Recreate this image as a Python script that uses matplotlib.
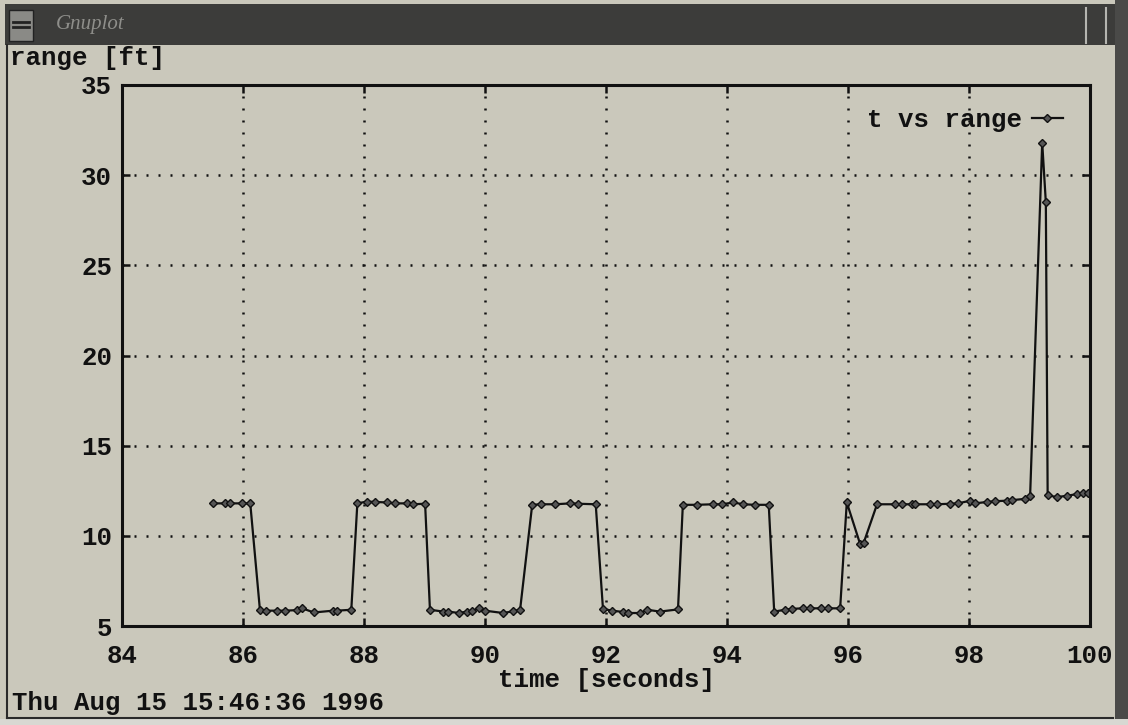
import matplotlib
matplotlib.use("Agg")
import matplotlib.pyplot as plt
from matplotlib.patches import Rectangle
from matplotlib.lines import Line2D

# range measurements against time
time_s = [85.50, 85.70, 85.79, 85.98, 86.12,
          86.28, 86.38, 86.56, 86.69, 86.89, 86.98, 87.17, 87.49, 87.55, 87.79,
          87.89, 88.05, 88.18, 88.38, 88.51, 88.71, 88.81, 89.01,
          89.09, 89.31, 89.39, 89.57, 89.70, 89.79, 89.90, 90.00, 90.30, 90.47, 90.58,
          90.78, 90.92, 91.16, 91.41, 91.54, 91.83,
          91.95, 92.10, 92.28, 92.36, 92.56, 92.68, 92.89, 93.19,
          93.27, 93.50, 93.77, 93.92, 94.10, 94.27, 94.46, 94.69,
          94.78, 94.96, 95.07, 95.25, 95.37, 95.56, 95.67, 95.87,
          95.98, 96.20, 96.26, 96.48, 96.78, 96.89, 97.06, 97.11, 97.36, 97.47,
          97.69, 97.82, 98.02, 98.10, 98.30, 98.43, 98.63, 98.71, 98.93, 99.01,
          99.21, 99.27, 99.30, 99.45, 99.62, 99.79, 99.88, 99.97]
range_ft = [11.80, 11.80, 11.80, 11.80, 11.80,
            5.88, 5.85, 5.85, 5.85, 5.88, 5.98, 5.75, 5.85, 5.85, 5.90,
            11.80, 11.90, 11.88, 11.85, 11.80, 11.80, 11.75, 11.78,
            5.90, 5.80, 5.80, 5.72, 5.80, 5.85, 5.98, 5.85, 5.72, 5.82, 5.90,
            11.72, 11.75, 11.75, 11.80, 11.78, 11.75,
            5.95, 5.85, 5.78, 5.72, 5.72, 5.90, 5.80, 5.92,
            11.72, 11.72, 11.75, 11.75, 11.85, 11.75, 11.72, 11.72,
            5.80, 5.90, 5.95, 5.98, 5.98, 5.98, 5.98, 5.98,
            11.85, 9.55, 9.62, 11.75, 11.75, 11.75, 11.75, 11.75, 11.75, 11.75,
            11.78, 11.80, 11.95, 11.80, 11.88, 11.92, 11.95, 11.98, 12.05, 12.20,
            31.80, 28.50, 12.25, 12.15, 12.22, 12.32, 12.38, 12.40]

x_ticks = [84, 86, 88, 90, 92, 94, 96, 98, 100]
y_ticks = [5, 10, 15, 20, 25, 30, 35]

series_label = "t vs range"
y_title = "range [ft]"
x_title = "time [seconds]"
timestamp = "Thu Aug 15 15:46:36 1996"
window_title = "Gnuplot"

BG = "#cac8bb"
INK = "#111111"
MONO = "Liberation Mono"
FS = 18.5

W, H = 1128, 725
fig = plt.figure(figsize=(W / 100, H / 100), dpi=100, facecolor=BG)


def fx(px):
    return px / W


def fy(py):
    return 1 - py / H


# window title bar
fig.add_artist(Rectangle((fx(5), fy(45)), fx(1123), 41 / H, transform=fig.transFigure,
                         facecolor="#3c3c3a", edgecolor="none"))
fig.add_artist(Rectangle((fx(9), fy(41)), fx(24), 31 / H, transform=fig.transFigure,
                         facecolor="#8a8a86", edgecolor="#222222", lw=1))
for yy in (22, 27):
    fig.add_artist(Line2D([fx(13), fx(29)], [fy(yy), fy(yy)], transform=fig.transFigure,
                          color="#222222", lw=2))
fig.text(fx(56), fy(24), window_title, fontsize=15, style="italic", color="#8e8e8a",
         family="Liberation Serif", va="center", ha="left")
for xx in (1086, 1106):
    fig.add_artist(Line2D([fx(xx), fx(xx)], [fy(8), fy(43)], transform=fig.transFigure,
                          color="#b5b5b0", lw=1.5))

# window frame
fig.add_artist(Line2D([fx(7), fx(7)], [fy(45), fy(718)], transform=fig.transFigure,
                      color="#2a2a2a", lw=1.5))
fig.add_artist(Line2D([fx(7), fx(1113)], [fy(718), fy(718)], transform=fig.transFigure,
                      color="#2a2a2a", lw=1.5))
fig.add_artist(Rectangle((fx(1115), 0), fx(13), 1, transform=fig.transFigure,
                         facecolor="#4a4a48", edgecolor="none"))
fig.add_artist(Rectangle((0, 0), 1, 6 / H, transform=fig.transFigure,
                         facecolor="#d8d8d2", edgecolor="none"))

# plotting area
ax = fig.add_axes([fx(122), fy(626), fx(968), 541 / H])
ax.set_facecolor(BG)
ax.set_xlim(84, 100)
ax.set_ylim(5, 35)
ax.set_xticks(x_ticks)
ax.set_yticks(y_ticks)
ax.set_xticklabels([str(v) for v in x_ticks], family=MONO, fontsize=FS, fontweight="bold", color=INK)
ax.set_yticklabels([str(v) for v in y_ticks], family=MONO, fontsize=FS, fontweight="bold", color=INK)
ax.tick_params(direction="in", length=6, width=1.8, top=True, right=True, color=INK)
ax.tick_params(axis="x", pad=13)
ax.tick_params(axis="y", pad=7)
for sp in ax.spines.values():
    sp.set_linewidth(2.2)
    sp.set_color(INK)

ax.grid(True, color=INK, linestyle=(0, (0.8, 4.0)), linewidth=1.8)
ax.set_axisbelow(True)

ax.plot(time_s, range_ft, color=INK, lw=1.6, marker="D", markersize=4.0,
        markerfacecolor="#555555", markeredgecolor=INK, markeredgewidth=1.0,
        label=series_label)

leg = ax.legend(loc="upper right", bbox_to_anchor=(0.972, 0.958), frameon=False,
                markerfirst=False, handlelength=1.2, handletextpad=0.4,
                borderpad=0, borderaxespad=0,
                prop={"family": MONO, "size": FS, "weight": "bold"})
for t in leg.get_texts():
    t.set_color(INK)

fig.text(fx(10), fy(58), y_title, family=MONO, fontsize=FS, fontweight="bold",
         color=INK, ha="left", va="center")
fig.text(fx(606), fy(680), x_title, family=MONO, fontsize=FS, fontweight="bold",
         color=INK, ha="center", va="center")
fig.text(fx(12), fy(703), timestamp, family=MONO, fontsize=FS, fontweight="bold",
         color=INK, ha="left", va="center")

fig.savefig("out.png", dpi=100, facecolor=BG)
